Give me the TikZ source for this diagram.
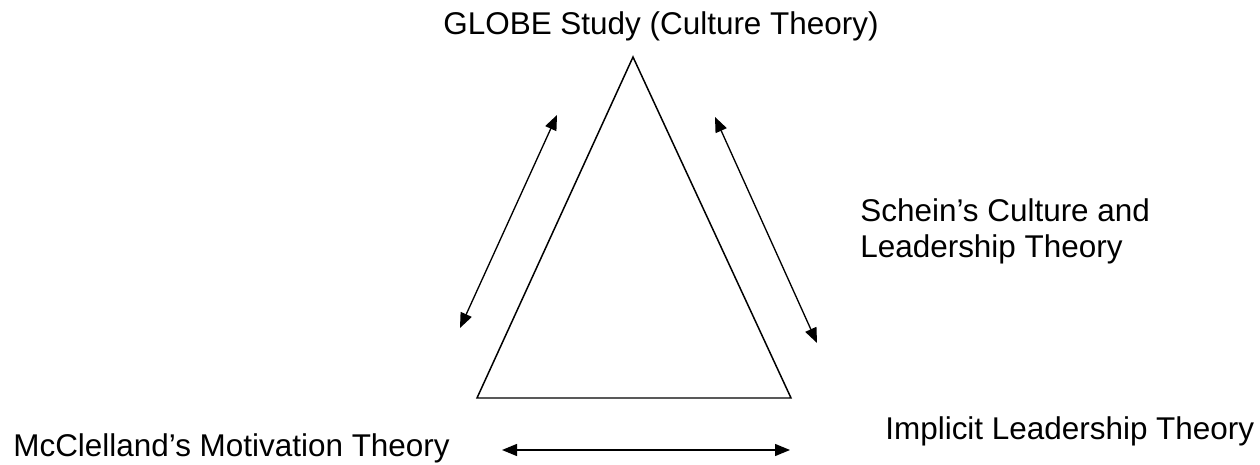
\documentclass[tikz,border=0pt]{standalone}
\usepackage{fontspec}
\setmainfont{Liberation Sans}
\usepackage{tikz}
\usetikzlibrary{arrows.meta,positioning}
\definecolor{cink}{HTML}{000000}
\tikzset{>={Triangle[length=3mm,width=2.4mm]}}
\tikzset{
  theory/.style={inner sep=0pt,text=cink,font=\fontsize{17.9}{21}\selectfont},
  link/.style={<->,cink,line width=0.75pt},
}

\begin{document}
\begin{tikzpicture}[x=0.02cm,y=-0.02cm]
\useasboundingbox (0,0) rectangle (1260,465);

% ===== the triangle =====
\coordinate (apex) at (633,57);
\coordinate (baseL) at (477,398);
\coordinate (baseR) at (791,398);
\draw[cink,line width=0.85pt,line join=miter] (apex) -- (baseL) -- (baseR) -- cycle;

% ===== theories =====
\node[theory,anchor=base] (globe) at (661,35) {GLOBE Study (Culture Theory)};
\node[theory,anchor=base west,align=left] (schein) at (860,258) {Schein’s Culture and\\Leadership Theory};
\node[theory,anchor=base west] (implicit) at (885,439) {Implicit Leadership Theory};
\node[theory,anchor=base west] (mcclelland) at (13,457) {McClelland’s Motivation Theory};

% ===== links =====
\coordinate (lTop) at (557,115);
\coordinate (lBot) at (460,328);
\coordinate (rTop) at (715,117);
\coordinate (rBot) at (817,343);
\coordinate (bLeft) at (502,450);
\coordinate (bRight) at (790,450);
\draw[link] (lTop) -- (lBot);
\draw[link] (rTop) -- (rBot);
\draw[link] (bLeft) -- (bRight);

\end{tikzpicture}
\end{document}
